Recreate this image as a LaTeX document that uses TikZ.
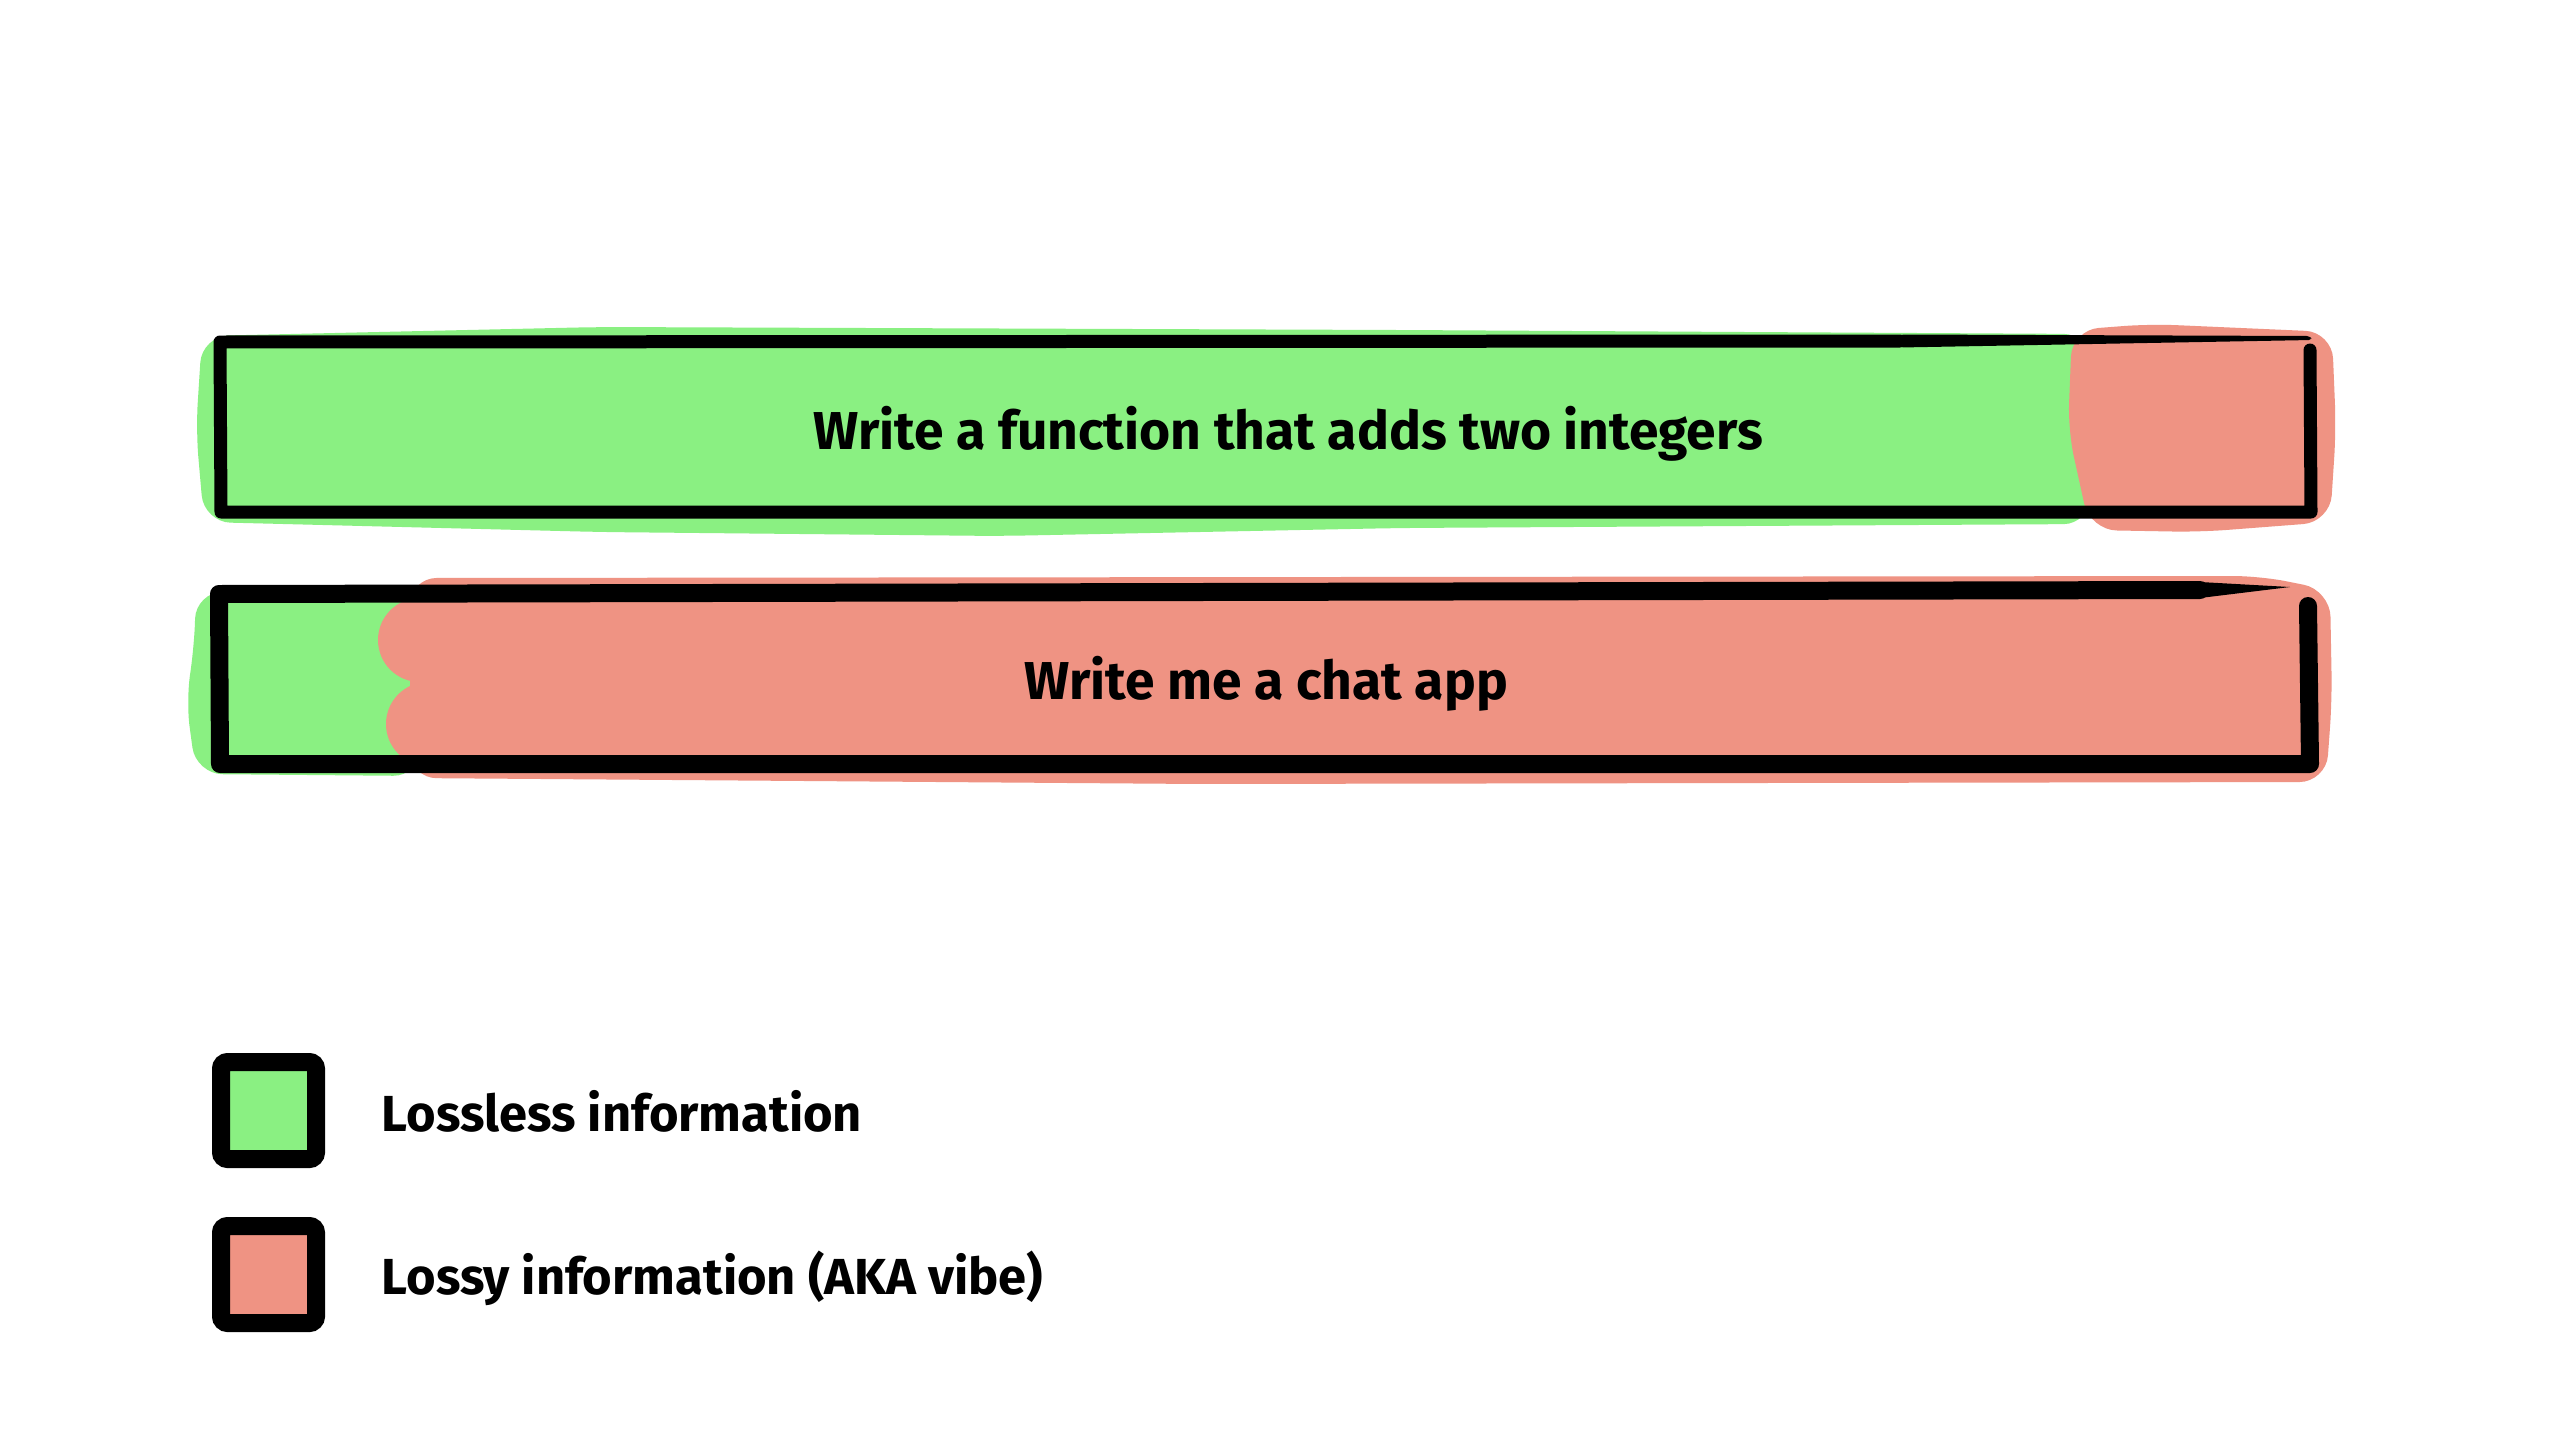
\documentclass[tikz,border=0pt]{standalone}
\usepackage{fontspec}
\setmainfont{Fira Sans}
\newfontfamily\handfont{Fira Sans}
\definecolor{lossless}{RGB}{138,240,130}
\definecolor{lossy}{RGB}{239,147,131}
\tikzset{
  thinborder/.style={draw=black, line width=3.9pt, line cap=round, line join=round},
  thickborder/.style={draw=black, line width=5.4pt, line cap=round, line join=round},
  legendbox/.style={draw=black, line width=5.4pt, rounded corners=2pt},
  blob/.style={rounded corners=8pt},
  bartext/.style={font=\handfont\bfseries\fontsize{16}{18}\selectfont, inner sep=0pt, anchor=base},
  legendtext/.style={font=\handfont\bfseries\fontsize{15.2}{18}\selectfont, inner sep=0pt, anchor=base west}
}
\begin{document}
\begin{tikzpicture}[x=0.3pt, y=-0.3pt]
\useasboundingbox[fill=white] (0,0) rectangle (2560,1440);

% ---------- top bar ----------
\fill[lossless, blob] (202,336) -- (600,327) -- (1400,330) -- (2090,334) -- (2090,524) -- (1400,528) -- (1000,536) -- (600,532) -- (204,522) -- (196,430) -- cycle;
\fill[lossy, blob] (2072,330) -- (2150,324) -- (2332,332) -- (2336,430) -- (2330,522) -- (2200,532) -- (2090,530) -- (2068,430) -- cycle;
\draw[thinborder] (1900,341) -- (220,342) -- (221,512) -- (2311,512) -- (2310,350);
\fill[black, rounded corners=1pt] (1900,334.5) -- (2310,336) -- (2312,340) -- (1900,347.5) -- cycle;
\node[bartext] (t1) at (1288,449) {Write a function that adds two integers};

% ---------- second bar ----------
\fill[lossless, blob] (196,592) -- (420,590) -- (420,776) -- (196,774) -- (186,700) -- (194,650) -- cycle;
\fill[lossy, blob] (410,578) -- (2260,576) -- (2330,590) -- (2332,700) -- (2326,782) -- (1200,784) -- (410,778) -- cycle;
\fill[lossy] (420,640) circle[radius=42];
\fill[lossy] (428,724) circle[radius=42];
\draw[thickborder] (2200,590) -- (1200,592) -- (219,594) -- (220,764) -- (2310,764) -- (2308,606);
\fill[black] (2200,582) -- (2290,587) -- (2200,598) -- cycle;
\node[bartext] (t2) at (1266,699) {Write me a chat app};

% ---------- legend ----------
\fill[lossless] (221,1062) rectangle (316,1159);
\draw[legendbox] (221,1062) rectangle (316,1159);
\node[legendtext] (l1) at (381,1131) {Lossless information};
\fill[lossy] (221,1226) rectangle (316,1323);
\draw[legendbox] (221,1226) rectangle (316,1323);
\node[legendtext] (l2) at (381,1294) {Lossy information (AKA vibe)};
\end{tikzpicture}
\end{document}
